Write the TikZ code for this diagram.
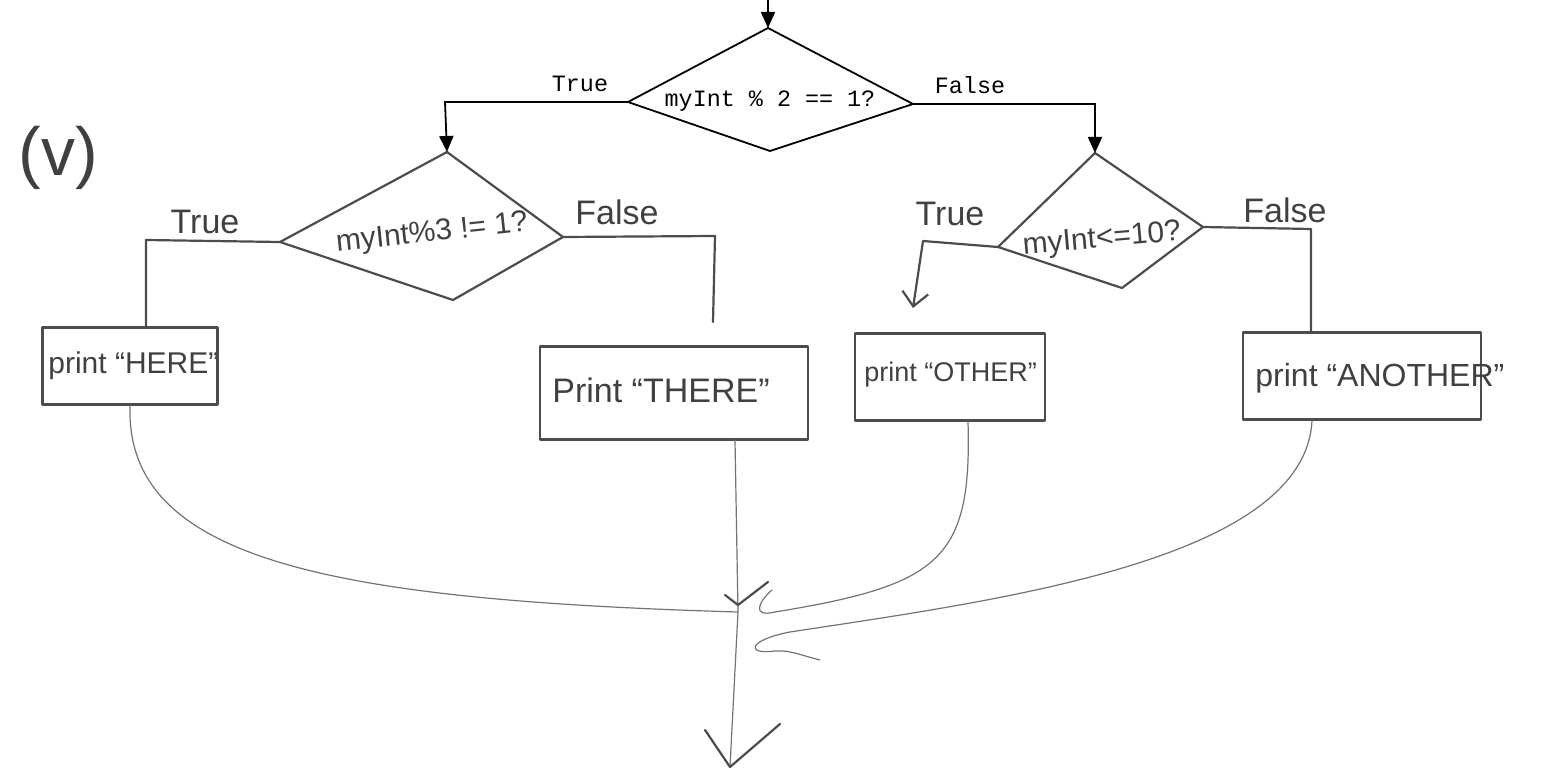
\documentclass[tikz,border=0pt]{standalone}
\usepackage{fontspec}
\setmainfont{Liberation Sans}
\newfontfamily\monofont{Liberation Mono}
\usetikzlibrary{arrows.meta}
\begin{document}
\begin{tikzpicture}[x=0.5pt,y=-0.5pt,
  printed/.style={line width=0.9pt,draw=black},
  hand/.style={line width=1.1pt,draw=black!70,line cap=round,line join=round},
  faint/.style={line width=0.6pt,draw=black!55,line cap=round},
  mono/.style={font=\monofont\fontsize{11.7}{13}\selectfont,inner sep=0pt},
  script/.style={font=\fontsize{15}{17}\selectfont,text=black!75,inner sep=0pt},
  tip/.style={-{Triangle[length=8pt,width=7pt]}},
  barb/.style={-{Straight Barb[length=7pt,width=13pt,line width=1.1pt]}},
  pbox/.style={hand,draw,inner sep=0pt}
]
\useasboundingbox (0,0) rectangle (1555,770);

% ---------- top (printed) part ----------
\coordinate (start) at (768,0);
\coordinate (dT) at (768,28);
\coordinate (dL) at (628,102);
\coordinate (dR) at (913,104);
\coordinate (dB) at (770,151);
\draw[printed] (dT) -- (dR) -- (dB) -- (dL) -- cycle;
\node[mono] (dtext) at (770,101) {myInt \% 2 == 1?};
\draw[printed,tip] (start) -- (dT);
\node[mono,anchor=base] (tTrue) at (580,92) {True};
\node[mono,anchor=base] (tFalse) at (970,94) {False};
\coordinate (lc) at (445,102);
\coordinate (rc) at (1095,104);

% ---------- left hand-drawn diamond ----------
\coordinate (aT) at (447,152);
\coordinate (aL) at (280,242);
\coordinate (aR) at (563,237);
\coordinate (aB) at (453,300);
\draw[hand] (aT) -- (aR) -- (aB) -- (aL) -- cycle;
\node[script,rotate=6] (atext) at (432,234) {myInt\%3 != 1?};
\draw[printed,tip] (dL) -- (lc) -- (aT);

% ---------- right hand-drawn diamond ----------
\coordinate (bT) at (1095,153);
\coordinate (bL) at (998,247);
\coordinate (bR) at (1203,227);
\coordinate (bB) at (1122,288);
\draw[hand] (bT) -- (bR) -- (bB) -- (bL) -- cycle;
\node[script,rotate=5] (btext) at (1102,240) {myInt<=10?};
\draw[printed,tip] (dR) -- (rc) -- (bT);

% ---------- boxes (sizes in pt = px/2) ----------
\node[pbox,minimum width=87.5pt,minimum height=38.5pt] (here) at (130,366) {};
\node[script,anchor=west] (heret) at (48,366) {print ``HERE''};
\node[pbox,minimum width=134pt,minimum height=46.5pt] (there) at (674,393) {};
\node[script,anchor=west,font=\fontsize{17}{19}\selectfont] (theret) at (552,390) {Print ``THERE''};
\node[pbox,minimum width=95pt,minimum height=43.5pt] (other) at (950,377) {};
\node[script,anchor=west,font=\fontsize{13.5}{15}\selectfont] (othert) at (864,375) {print ``OTHER''};
\node[pbox,minimum width=119pt,minimum height=43.5pt] (another) at (1362,376) {};
\node[script,anchor=west,font=\fontsize{16}{18}\selectfont] (anothert) at (1255,378) {print ``ANOTHER''};

% ---------- handwritten labels ----------
\node[script,font=\fontsize{17}{19}\selectfont] (l1) at (205,222) {True};
\node[script,font=\fontsize{17}{19}\selectfont] (l2) at (617,212) {False};
\node[script,font=\fontsize{17}{19}\selectfont] (l3) at (950,214) {True};
\node[script,font=\fontsize{17}{19}\selectfont] (l4) at (1285,210) {False};
\node[script,font=\fontsize{34}{36}\selectfont] (part) at (58,158) {(v)};

% ---------- handwritten connectors ----------
\coordinate (aLc) at (146,240);
\coordinate (aRc) at (715,236);
\coordinate (aRe) at (713,322);
\draw[hand] (aL) -- (aLc) -- (here.north -| aLc);
\draw[hand] (aR) -- (aRc) -- (aRe);
\coordinate (bLc) at (923,241);
\coordinate (bLe) at (913,308);
\draw[hand,barb] (bL) -- (bLc) -- (bLe);
\coordinate (bRc) at (1311,229);
\draw[hand] (bR) -- (bRc) -- (another.north -| bRc);

% ---------- merge ----------
\coordinate (m) at (738,612);
\coordinate (endp) at (730,767);
\coordinate (thereb) at (735,440);
\draw[faint] (here.south) .. controls (125,560) and (330,600) .. (m);
\draw[faint] (thereb) -- (m) -- (endp);
\draw[hand] (705,730) -- (endp) -- (780,724);
\draw[hand] (725,595) -- (738,605) -- (768,582);
\draw[faint] (other.south -| 968,0) .. controls (972,560) and (940,585) .. (775,612)
  .. controls (750,618) and (760,600) .. (772,590);
\draw[faint] (another.south -| 1312,0) .. controls (1305,560) and (1000,600) .. (790,632)
  .. controls (748,640) and (745,655) .. (775,651) .. controls (790,650) and (800,655) .. (820,660);
\end{tikzpicture}
\end{document}
